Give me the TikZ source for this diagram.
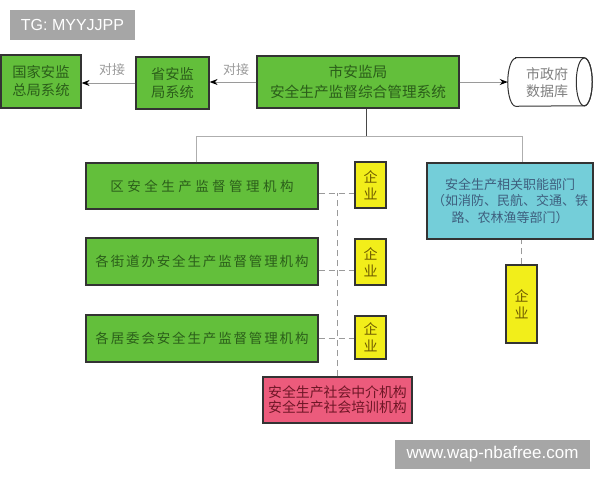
\documentclass[tikz,border=0pt]{standalone}
\usepackage{fontspec}
\setmainfont{Liberation Sans}
\newfontfamily\cjk{Noto Sans CJK SC}
\newfontfamily\cjkwide[LetterSpace=26]{Noto Sans CJK SC}
\newfontfamily\cjkmid[LetterSpace=14]{Noto Sans CJK SC}
\usetikzlibrary{arrows.meta}
\definecolor{gfill}{HTML}{63BF3B}
\definecolor{gtext}{HTML}{2B5E1A}
\definecolor{yfill}{HTML}{F2EE1A}
\definecolor{ytext}{HTML}{6E5B00}
\definecolor{cfill}{HTML}{74CED9}
\definecolor{ctext}{HTML}{3E5F7E}
\definecolor{pfill}{HTML}{EC5B7C}
\definecolor{ptext}{HTML}{6E1626}
\definecolor{bord}{HTML}{333333}
\definecolor{lgray}{HTML}{9A9A9A}
\definecolor{wmgray}{HTML}{A6A6A6}
\begin{document}
\begin{tikzpicture}[x=0.75pt,y=-0.75pt,
  box/.style={draw=bord,line width=0.9pt,inner sep=0pt,align=center},
  gbox/.style={box,fill=gfill,text=gtext},
  ybox/.style={box,fill=yfill,text=ytext,minimum width=23.25pt,
     font=\cjk\fontsize{10.5}{12.75}\selectfont},
  wm/.style={fill=wmgray,text=white,inner sep=0pt},
  arr/.style={draw=lgray,line width=0.75pt,-{Stealth[length=6pt,width=4.5pt,color=black]}},
  dsh/.style={draw=lgray,line width=0.75pt,dash pattern=on 4.5pt off 3pt},
  tree/.style={draw=lgray!80,line width=0.75pt},
  lab/.style={text=lgray,font=\cjk\fontsize{9.75}{11}\selectfont,inner sep=0pt}]
\useasboundingbox (0,0) rectangle (600,480);
% watermarks
\node[wm,minimum width=93.75pt,minimum height=22.5pt,font=\fontsize{12}{14}\selectfont] (tg) at (72.5,25) {TG: MYYJJPP};
\node[wm,minimum width=146.25pt,minimum height=21.75pt,font=\fontsize{12.75}{14}\selectfont] (wmk) at (492.5,454.5) {www.wap-nbafree.com};
% top row
\node[gbox,minimum width=60pt,minimum height=39.75pt,font=\cjk\fontsize{10.7}{13.5}\selectfont] (guojia) at (41,81.5) {国家安监\\总局系统};
\node[gbox,minimum width=54.75pt,minimum height=39pt,font=\cjk\fontsize{10.7}{13.5}\selectfont] (sheng) at (172.5,83) {省安监\\局系统};
\node[gbox,minimum width=151.5pt,minimum height=39pt,font=\cjk\fontsize{11}{15}\selectfont] (shi) at (358,82) {市安监局\\安全生产监督综合管理系统};
\node[inner sep=0pt,minimum width=63pt,minimum height=36pt] (db) at (550,82) {};
\draw[draw=bord,line width=0.75pt,fill=white]
  ([xshift=6pt]db.north west) -- ([xshift=-6pt]db.north east)
  arc[start angle=90,end angle=-90,x radius=6pt,y radius=18pt]
  -- ([xshift=6pt]db.south west)
  arc[start angle=270,end angle=90,x radius=6pt,y radius=18pt] -- cycle;
\draw[draw=bord,line width=0.75pt] ([xshift=-6pt]db.east) ellipse[x radius=6pt,y radius=18pt];
\node[text=gray,align=center,font=\cjk\fontsize{10.5}{12.75}\selectfont,inner sep=0pt] (dbt) at (547,83) {市政府\\数据库};
% top arrows
\draw[arr] (shi.west) -- (shi.west -| sheng.east);
\draw[arr] (sheng.west) -- (sheng.west -| guojia.east);
\draw[arr] (shi.east) -- (db.west);
\node[lab] (lab1) at (236,70) {对接};
\node[lab] (lab2) at (112,70) {对接};
% second level
\node[gbox,minimum width=174pt,minimum height=34.5pt,font=\cjkwide\fontsize{10.1}{12}\selectfont] (qu) at (202,186) {区安全生产监督管理机构};
\node[gbox,minimum width=174pt,minimum height=35.25pt,font=\cjkmid\fontsize{10.1}{12}\selectfont] (jiedao) at (202,261.5) {各街道办安全生产监督管理机构};
\node[gbox,minimum width=174pt,minimum height=35.25pt,font=\cjkmid\fontsize{10.1}{12}\selectfont] (juwei) at (202,338.5) {各居委会安全生产监督管理机构};
\node[ybox,minimum height=34.5pt] (y1) at (370.5,185) {企\\业};
\node[ybox,minimum height=34.5pt] (y2) at (370.5,262) {企\\业};
\node[ybox,minimum height=32.25pt] (y3) at (370.5,337.5) {企\\业};
\node[box,fill=pfill,text=ptext,minimum width=111.75pt,minimum height=34.5pt,font=\cjk\fontsize{10.4}{11.2}\selectfont] (pink) at (337.5,400) {安全生产社会中介机构\\安全生产社会培训机构};
\node[box,fill=cfill,text=ctext,minimum width=124.5pt,minimum height=57pt,font=\cjk\fontsize{9.75}{12.4}\selectfont] (cyan) at (510,201) {安全生产相关职能部门\\（如消防、民航、交通、铁\\路、农林渔等部门）};
\node[ybox,minimum height=58.5pt] (y4) at (521.5,304) {企\\业};
% tree lines
\coordinate (jn) at (366,136);
\coordinate (hl) at (196,136);
\coordinate (hr) at (522,136);
\draw[draw=bord!90,line width=0.75pt] (shi.south -| jn) -- (jn);
\draw[tree] (hl |- qu.north) -- (hl) -- (hr) -- (hr |- cyan.north);
% dashed links
\coordinate (d1) at ([yshift=-5.25pt]qu.east);
\coordinate (d2) at ([yshift=-6.4pt]jiedao.east);
\coordinate (d3) at (juwei.east);
\draw[dsh] (d1) -- (d1 -| y1.west);
\draw[dsh] (d2) -- (d2 -| y2.west);
\draw[dsh] (d3) -- (d3 -| y3.west);
\draw[dsh] (pink.north) -- (pink.north |- d1);
\draw[dsh] (y4.north) -- (y4.north |- cyan.south);
\end{tikzpicture}
\end{document}
